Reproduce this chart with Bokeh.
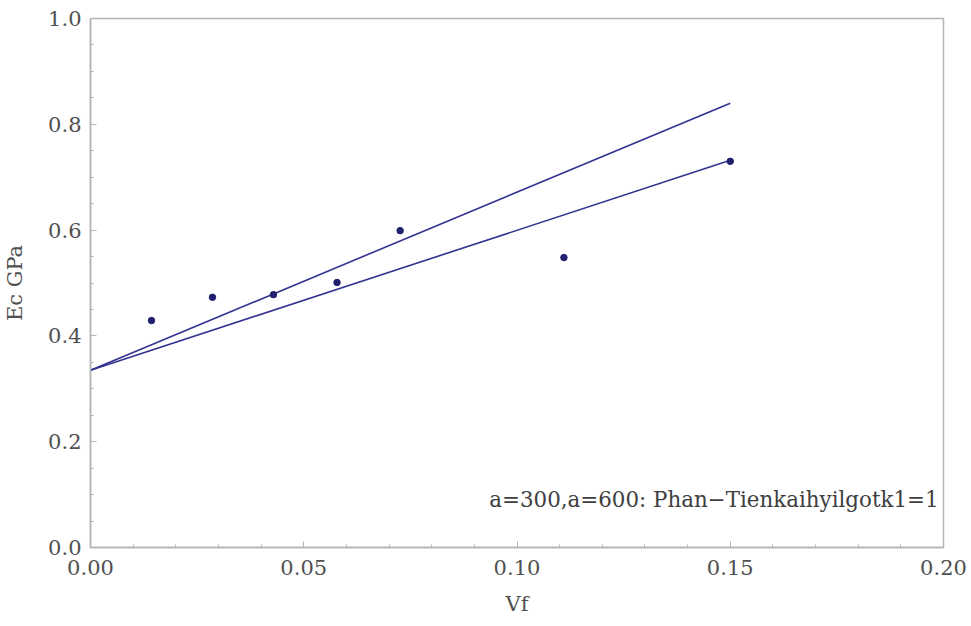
from bokeh.plotting import figure
from bokeh.models import Range1d, FixedTicker, Label, PrintfTickFormatter
from bokeh.embed import file_html
from bokeh.resources import INLINE

# data
vf = [0.0143, 0.0286, 0.0429, 0.0578, 0.0726, 0.111, 0.150]
ec = [0.429, 0.473, 0.478, 0.501, 0.599, 0.548, 0.730]

line_x = [0.0, 0.15]
upper_y = [0.335, 0.840]
lower_y = [0.335, 0.732]

x_ticks = [0.0, 0.05, 0.10, 0.15, 0.20]
y_ticks = [0.0, 0.2, 0.4, 0.6, 0.8, 1.0]
note = "a=300,a=600: Phan\u2212Tienkaihyilgotk1=1"

FONT = "DejaVu Serif"
GRAY = "#b4b4b4"
LBL = "#505050"

p = figure(width=971, height=626, output_backend="svg", toolbar_location=None,
           x_range=Range1d(0, 0.2), y_range=Range1d(0, 1.0),
           min_border_left=89, min_border_right=28, min_border_top=18, min_border_bottom=79)
p.background_fill_color = "white"
p.border_fill_color = "white"
p.outline_line_color = GRAY
p.outline_line_width = 1.5
p.xgrid.visible = False
p.ygrid.visible = False

p.line(line_x, upper_y, line_color="#32328f", line_width=1.6)
p.line(line_x, lower_y, line_color="#32328f", line_width=1.6)
p.scatter(vf, ec, size=6.5, fill_color="#20206f", line_color="#20206f")

for ax in (p.xaxis[0], p.yaxis[0]):
    ax.axis_line_color = GRAY
    ax.axis_line_width = 1.5
    ax.major_tick_line_color = GRAY
    ax.minor_tick_line_color = GRAY
    ax.major_tick_in = 6
    ax.major_tick_out = 0
    ax.minor_tick_in = 3
    ax.minor_tick_out = 0
    ax.major_label_text_font = FONT
    ax.major_label_text_font_size = "21px"
    ax.major_label_text_color = LBL
    ax.axis_label_text_font = FONT
    ax.axis_label_text_font_size = "21px"
    ax.axis_label_text_font_style = "normal"
    ax.axis_label_text_color = LBL

p.xaxis.ticker = FixedTicker(ticks=x_ticks, minor_ticks=[i * 0.01 for i in range(21)])
p.yaxis.ticker = FixedTicker(ticks=y_ticks, minor_ticks=[i * 0.05 for i in range(21)])
p.xaxis.formatter = PrintfTickFormatter(format="%.2f")
p.yaxis.formatter = PrintfTickFormatter(format="%.1f")
p.xaxis.major_label_standoff = 12
p.yaxis.major_label_standoff = 9
p.xaxis.axis_label = "Vf"
p.yaxis.axis_label = "Ec GPa"
p.xaxis.axis_label_standoff = 14
p.yaxis.axis_label_standoff = 18

p.add_layout(Label(x=0.0935, y=0.091, text=note, text_font=FONT,
                   text_font_size="21.4px", text_color="#404040",
                   text_baseline="alphabetic"))

open("out.html", "w").write(file_html(p, INLINE))
